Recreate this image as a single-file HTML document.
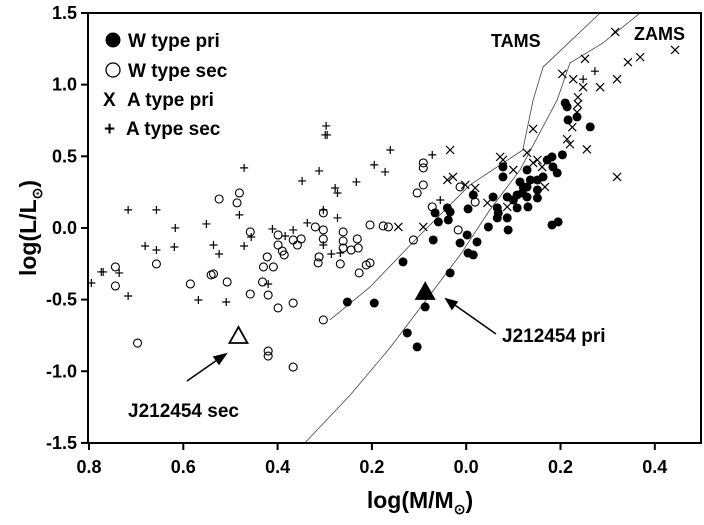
<!DOCTYPE html>
<html><head><meta charset="utf-8"><style>
html,body{margin:0;padding:0;background:#fff;}
svg{display:block;font-family:"Liberation Sans",Arial,sans-serif;}
</style></head><body>
<svg id="chart" width="704" height="525" viewBox="0 0 704 525" xmlns="http://www.w3.org/2000/svg">
<rect x="0" y="0" width="704" height="525" fill="#fff"/>
<g id="curves"></g>
<g id="marks"></g>
<rect x="88" y="13" width="613" height="430" fill="none" stroke="#000" stroke-width="2"/>
<g id="axes"></g>
<text transform="translate(36,228) rotate(-90)" text-anchor="middle" font-weight="bold" font-size="23">log(L/L<tspan font-size="14" dy="6">⊙</tspan><tspan dy="-6">)</tspan></text>
<text x="420" y="508" text-anchor="middle" font-weight="bold" font-size="23">log(M/M<tspan font-size="14" dy="6">⊙</tspan><tspan dy="-6">)</tspan></text>
<g font-weight="bold" font-size="19">
<circle cx="113" cy="40" r="7.5" fill="#000"/>
<text x="128" y="47">W type pri</text>
<circle cx="113" cy="70" r="7" fill="#fff" stroke="#000" stroke-width="1.3"/>
<text x="128" y="77">W type sec</text>
<text x="103" y="106">X</text>
<text x="127" y="106">A type pri</text>
<text x="104" y="135">+</text>
<text x="126" y="135">A type sec</text>
</g>
<text x="491" y="47" font-weight="bold" font-size="18">TAMS</text>
<text x="634" y="40" font-weight="bold" font-size="18">ZAMS</text>
<text x="128" y="417" font-weight="bold" font-size="19">J212454 sec</text>
<text x="502" y="342" font-weight="bold" font-size="19">J212454 pri</text>
<g stroke="#000" stroke-width="1.5" fill="#000">
<line x1="187" y1="381" x2="220" y2="358"/>
<polygon points="226,354 214,357 219,364"/>
<line x1="496" y1="334" x2="452" y2="303"/>
<polygon points="446,299 452,309 457,302"/>
</g>
</svg>
<script>
const xTicks=[0.8,0.6,0.4,0.2,0.0,-0.2,-0.4];
const yTicks=[1.5,1.0,0.5,0.0,-0.5,-1.0,-1.5];
const zamsX=[0.342,0.246,0.162,0.077,0.013,-0.05,-0.114,-0.193,-0.22,-0.29,-0.369];
const zamsY=[-1.5,-1.166,-0.838,-0.468,-0.189,0.125,0.404,0.893,1.151,1.291,1.5];
const tamsX=[0.289,0.204,0.098,-0.008,-0.12,-0.142,-0.163,-0.284];
const tamsY=[-0.642,-0.412,-0.049,0.3,0.544,0.893,1.123,1.5];
const wPriX=[0.252,0.195,0.134,0.070,0.066,0.059,0.040,0.034,0.038,-0.004,-0.015,0.013,-0.002,-0.023,-0.004,-0.015,0.034,0.087,0.125,0.104,-0.047,-0.057,-0.066,-0.068,-0.066,-0.087,-0.089,-0.078,-0.078,-0.087,-0.108,-0.108,-0.129,-0.129,-0.131,-0.129,-0.136,-0.151,-0.151,-0.151,-0.163,-0.172,-0.182,-0.193,-0.184,-0.204,-0.121,-0.114,-0.100,-0.182,-0.195,-0.210,-0.214,-0.216,-0.263,-0.235,-0.119];
const wPriY=[-0.517,-0.524,-0.237,-0.084,0.105,0.042,0.140,0.112,0.056,0.133,0.230,-0.105,-0.049,-0.098,-0.175,-0.188,-0.314,-0.551,-0.733,-0.830,0.007,0.216,0.140,0.105,0.070,0.070,-0.014,0.426,0.356,0.216,0.230,0.140,0.216,0.286,0.147,0.405,0.335,0.209,0.335,0.265,0.356,0.475,0.496,0.384,0.426,0.510,0.286,0.321,0.195,0.021,0.042,0.872,0.845,0.754,0.705,0.775,0.244];
const wSecX=[0.744,0.744,0.657,0.697,0.524,0.481,0.486,0.458,0.541,0.536,0.585,0.507,0.458,0.432,0.420,0.422,0.430,0.409,0.399,0.399,0.390,0.386,0.367,0.358,0.350,0.399,0.367,0.303,0.420,0.420,0.367,0.320,0.303,0.303,0.303,0.312,0.314,0.267,0.261,0.261,0.261,0.244,0.231,0.229,0.227,0.212,0.204,0.176,0.165,0.104,0.091,0.091,0.091,0.072,0.013,-0.019,0.017,0.112,0.204];
const wSecY=[-0.272,-0.405,-0.251,-0.803,0.202,0.244,0.175,-0.028,-0.328,-0.321,-0.391,-0.377,-0.461,-0.377,-0.468,-0.202,-0.272,-0.272,-0.049,-0.119,-0.161,-0.188,-0.084,-0.119,-0.077,-0.558,-0.524,-0.642,-0.859,-0.894,-0.971,0.007,0.105,-0.014,-0.077,-0.202,-0.244,-0.251,-0.028,-0.091,-0.140,-0.154,-0.077,-0.140,-0.314,-0.258,0.021,0.014,0.007,0.244,0.300,0.454,0.419,0.147,0.286,0.181,-0.014,-0.084,-0.244];
const aPriX=[0.034,0.040,0.028,0.002,-0.019,-0.045,0.091,0.144,-0.072,-0.078,-0.100,-0.129,-0.142,-0.151,-0.161,-0.167,-0.087,-0.142,-0.204,-0.252,-0.227,-0.248,-0.237,-0.237,-0.235,-0.225,-0.214,-0.220,-0.256,-0.284,-0.320,-0.343,-0.369,-0.316,-0.443,-0.320];
const aPriY=[0.544,0.335,0.356,0.300,0.279,0.175,0.007,0.007,0.496,0.475,0.405,0.524,0.454,0.475,0.426,0.286,0.147,0.691,1.075,1.180,1.038,0.982,0.912,0.863,0.807,0.703,0.619,0.584,0.549,0.982,1.038,1.157,1.192,1.368,1.242,0.356];
const aSecX=[0.795,0.774,0.770,0.736,0.717,0.717,0.657,0.657,0.681,0.617,0.619,0.551,0.536,0.524,0.568,0.509,0.471,0.481,0.471,0.456,0.420,0.411,0.384,0.367,0.348,0.312,0.297,0.299,0.295,0.337,0.303,0.303,0.278,0.273,0.273,0.286,0.267,0.233,0.195,0.161,0.172,0.072,0.055,-0.273,-0.248];
const aSecY=[-0.384,-0.307,-0.307,-0.314,-0.475,0.126,0.126,-0.154,-0.126,0.0,-0.133,0.028,-0.119,-0.182,-0.503,-0.517,0.419,0.091,-0.126,-0.063,-0.391,-0.007,-0.056,-0.014,0.328,0.398,0.712,0.649,0.649,0.035,0.126,-0.119,0.279,0.244,0.070,-0.182,-0.175,0.321,0.440,0.544,0.391,0.510,0.195,1.094,1.038];
const targetX=[0.483,0.087];
const targetY=[-0.754,-0.447];

const NS="http://www.w3.org/2000/svg";
function sx(v){return 89+(0.8-v)*471.5;}
function sy(v){return 13+(1.5-v)*143.3;}
function mk(tag,attrs,parent){const e=document.createElementNS(NS,tag);for(const k in attrs)e.setAttribute(k,attrs[k]);parent.appendChild(e);return e;}
const axes=document.getElementById('axes');
xTicks.forEach(v=>{
  const l=mk('line',{x1:sx(v),x2:sx(v),y1:443,y2:450,stroke:'#000','stroke-width':2},axes);
  
  
  const t=mk('text',{x:sx(v),y:473,'text-anchor':'middle','font-weight':'bold','font-size':18},axes);
  t.textContent=Math.abs(v).toFixed(1);
  
  
});
yTicks.forEach(v=>{
  const l=mk('line',{x1:81,x2:88,y1:sy(v),y2:sy(v),stroke:'#000','stroke-width':2},axes);
  
  
  const t=mk('text',{x:77,y:sy(v)+6,'text-anchor':'end','font-weight':'bold','font-size':18},axes);
  t.textContent=v.toFixed(1);
  
  
});
const curves=document.getElementById('curves');
function poly(xs,ys,name){
  const p=mk('polyline',{points:xs.map((x,i)=>sx(x)+','+sy(ys[i])).join(' '),fill:'none',stroke:'#444','stroke-width':0.8},curves);
  
  
}
poly(zamsX,zamsY,'zams-curve');
poly(tamsX,tamsY,'tams-curve');
const marks=document.getElementById('marks');
wSecX.forEach((x,i)=>{
  const c=mk('circle',{cx:sx(x),cy:sy(wSecY[i]),r:4,fill:'none',stroke:'#000','stroke-width':1.1},marks);
  
  
});
aSecX.forEach((x,i)=>{
  const X=sx(x),Y=sy(aSecY[i]);
  const p=mk('path',{d:`M${X-4},${Y}H${X+4}M${X},${Y-4}V${Y+4}`,stroke:'#000','stroke-width':1.2},marks);
  
  
});
aPriX.forEach((x,i)=>{
  const X=sx(x),Y=sy(aPriY[i]);
  const p=mk('path',{d:`M${X-4},${Y-4}L${X+4},${Y+4}M${X-4},${Y+4}L${X+4},${Y-4}`,stroke:'#000','stroke-width':1.2},marks);
  
  
});
wPriX.forEach((x,i)=>{
  const c=mk('circle',{cx:sx(x),cy:sy(wPriY[i]),r:4.5,fill:'#000'},marks);
  
  
});
targetX.forEach((x,i)=>{
  const X=sx(x),Y=sy(targetY[i]);
  const t=mk('polygon',{points:`${X},${Y-9} ${X-9},${Y+7} ${X+9},${Y+7}`,fill:i===0?'#fff':'#000',stroke:'#000','stroke-width':1.8},marks);
  
  
});
</script>
</body></html>
